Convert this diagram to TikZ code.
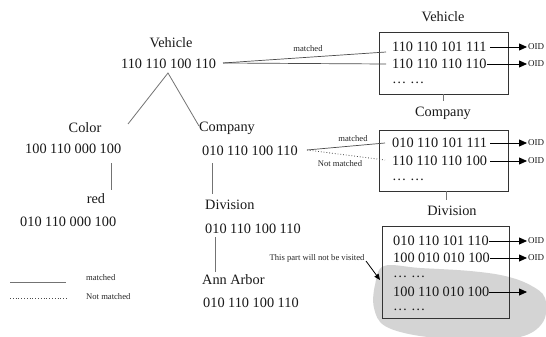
\documentclass[tikz,border=0pt]{standalone}
\usepackage{fontspec}
\setmainfont{Liberation Serif}
\usetikzlibrary{arrows.meta,calc}
\begin{document}
\begin{tikzpicture}[x=1pt,y=-1pt,
  big/.style={font=\fontsize{14.3}{16}\selectfont, inner sep=0pt, text=black!90},
  small/.style={font=\fontsize{8.6}{10}\selectfont, inner sep=0pt, text=black!85},
  oid/.style={font=\fontsize{9}{10}\selectfont, inner sep=0pt, anchor=west, text=black!90},
  tree/.style={draw=black!55, line width=0.8pt},
  link/.style={draw=black!70, line width=0.7pt},
  nolink/.style={draw=black!70, line width=0.8pt, dotted},
  box/.style={draw=black!80, line width=0.8pt, inner sep=0pt},
  arr/.style={draw=black, line width=0.8pt, -{Triangle[length=8pt,width=7pt]}}]
\useasboundingbox (0,0) rectangle (546,337);
\fill[white] (0,0) rectangle (546,337);
% gray blob
\fill[black!17] plot[smooth cycle, tension=0.6] coordinates {(384,266) (375,285) (374,308) (385,326) (420,336) (470,339) (520,337) (543,322) (545,298) (530,285) (505,276) (470,271) (420,268)};
% tree
\node[big] (vl) at (171,43) {Vehicle};
\node[big, anchor=west] (vn) at (121,64) {110 110 100 110};
\node[big] (cl) at (85,128) {Color};
\node[big, anchor=west] (cn) at (25,149) {100 110 000 100};
\node[big, anchor=west] (col) at (199,128) {Company};
\node[big, anchor=west] (comn) at (202,151) {010 110 100 110};
\node[big] (red) at (96,199) {red};
\node[big, anchor=west] (redn) at (20,222) {010 110 000 100};
\node[big, anchor=west] (dl) at (205,205) {Division};
\node[big, anchor=west] (dn) at (205,229) {010 110 100 110};
\node[big, anchor=west] (al) at (202,280) {Ann Arbor};
\node[big, anchor=west] (an) at (203,303) {010 110 100 110};
\coordinate (t0) at (168,73);
\coordinate (t1) at (128,124);
\coordinate (t2) at (199,126);
\draw[tree] (t1) -- (t0) -- (t2);
\coordinate (c1) at (111,163); \coordinate (c2) at (111,190);
\coordinate (d1) at (212,163); \coordinate (d2) at (212,194);
\coordinate (e1) at (215,237); \coordinate (e2) at (215,272);
\draw[tree] (c1) -- (c2);
\draw[tree] (d1) -- (d2);
\draw[tree] (e1) -- (e2);
% legend
\coordinate (la) at (10,282); \coordinate (lb) at (66,282);
\coordinate (lc) at (10,298); \coordinate (ld) at (68,298);
\draw[tree] (la) -- (lb);
\draw[nolink] (lc) -- (ld);
\node[small, anchor=west] (lm) at (86,278) {matched};
\node[small, anchor=west] (lnm) at (86,297) {Not matched};
% Vehicle box
\node[big] (bvl) at (443,17) {Vehicle};
\node[box, minimum width=129pt, minimum height=62pt] (b1) at (443.5,63) {};
\node[big, anchor=west] (r11) at (392,47) {110 110 101 111};
\node[big, anchor=west] (r12) at (392,64) {110 110 110 110};
\node[big, anchor=west] (r13) at (392,83) {… …};
\coordinate (o11) at (527,47); \coordinate (o12) at (527,64);
\draw[arr] ($(r11.east)+(3,0)$) -- (o11);
\draw[arr] (r12.east) -- (o12);
\node[oid] (oid11) at (528,47) {OID};
\node[oid] (oid12) at (528,64) {OID};
\coordinate (vs) at (223,63);
\coordinate (vt1) at (386,52); \coordinate (vt2) at (386,64);
\draw[link] (vs) -- (vt1);
\draw[link] (vs) -- (vt2);
\node[small] (vm) at (308,49) {matched};
% Company box
\node[big] (bcl) at (443,113) {Company};
\coordinate (k1) at (443,94); \coordinate (k2) at (443,101);
\draw[tree] (k1) -- (k2);
\node[box, minimum width=129pt, minimum height=61pt] (b2) at (443.5,160.5) {};
\node[big, anchor=west] (r21) at (392,143) {010 110 101 111};
\node[big, anchor=west] (r22) at (392,161) {110 110 110 100};
\node[big, anchor=west] (r23) at (392,180) {… …};
\coordinate (o21) at (527,143); \coordinate (o22) at (527,161);
\draw[arr] ($(r21.east)+(3,0)$) -- (o21);
\draw[arr] ($(r22.east)+(3,0)$) -- (o22);
\node[oid] (oid21) at (528,143) {OID};
\node[oid] (oid22) at (528,161) {OID};
\coordinate (cs) at (307,150);
\coordinate (ct1) at (385,143); \coordinate (ct2) at (385,160);
\draw[link] (cs) -- (ct1);
\draw[nolink] (cs) -- (ct2);
\node[small] (cm) at (353,139) {matched};
\node[small] (cnm) at (340,164) {Not matched};
% Division box
\node[big] (bdl) at (452,211) {Division};
\coordinate (m1) at (446,191); \coordinate (m2) at (446,200);
\draw[tree] (m1) -- (m2);
\node[box, minimum width=127pt, minimum height=92pt] (b3) at (445.5,272) {};
\node[big, anchor=west] (r31) at (393,241) {010 110 101 110};
\node[big, anchor=west] (r32) at (393,258) {100 010 010 100};
\node[big, anchor=west] (r33) at (393,277) {… …};
\node[big, anchor=west] (r34) at (393,292) {100 110 010 100};
\node[big, anchor=west] (r35) at (393,310) {… …};
\coordinate (o31) at (527,241); \coordinate (o32) at (527,258); \coordinate (o34) at (527,292);
\draw[arr] (r31.east) -- (o31);
\draw[arr] (r32.east) -- (o32);
\draw[arr] (r34.east) -- (o34);
\node[oid] (oid31) at (528,241) {OID};
\node[oid] (oid32) at (528,258) {OID};
\node[small] (visit) at (317,258) {This part will not be visited};
\coordinate (va) at (366,261); \coordinate (vb) at (380,280);
\draw[draw=black, line width=0.8pt, -{Triangle[length=6pt,width=5pt]}] (va) -- (vb);
\end{tikzpicture}
\end{document}
